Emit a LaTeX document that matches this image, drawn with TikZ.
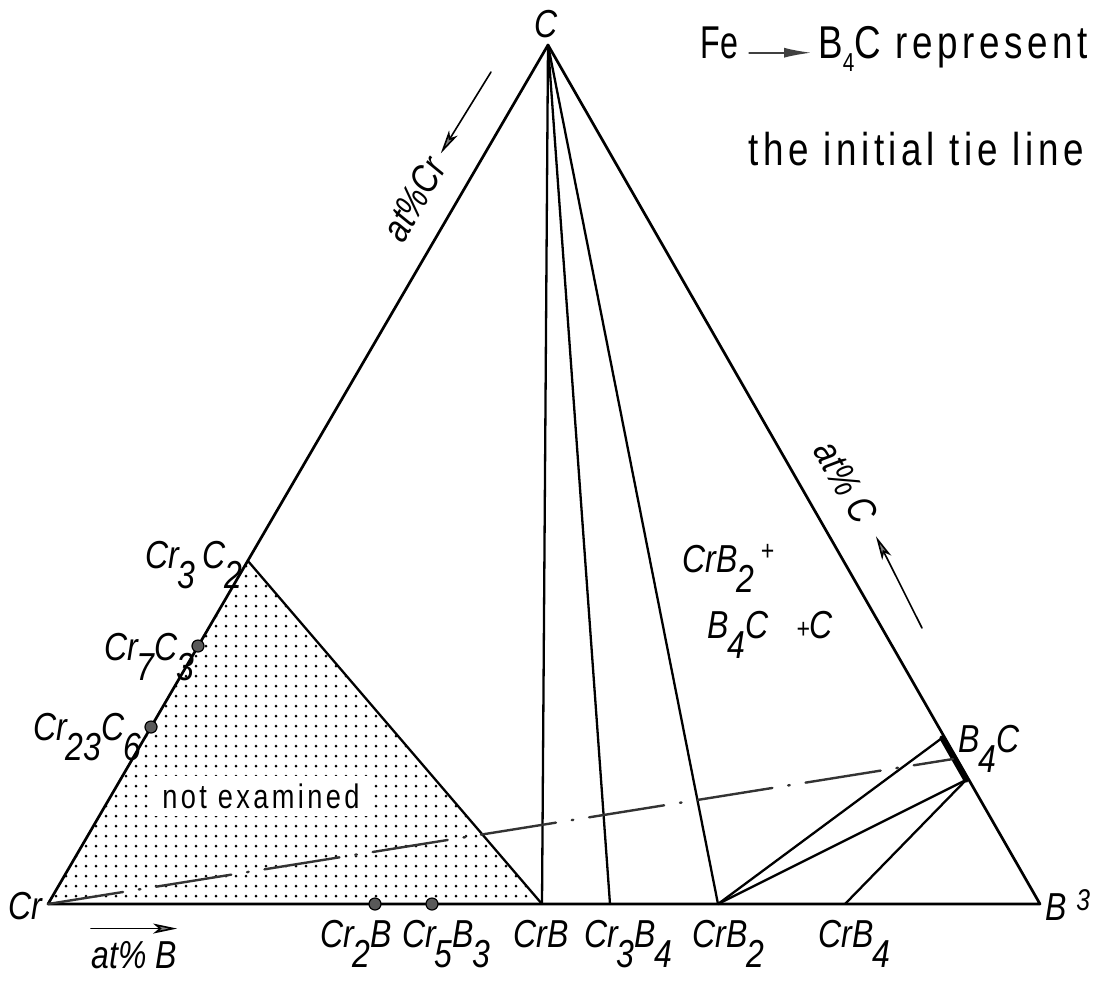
\documentclass[tikz,border=0pt]{standalone}
\usepackage{fontspec}
\setmainfont{Liberation Sans}
\newfontfamily\labfont{Liberation Sans}[FakeStretch=0.82]
\newfontfamily\dinfont{Liberation Sans}[FakeStretch=0.8,LetterSpace=10]
\newfontfamily\dinfontb{Liberation Sans}[FakeStretch=0.7,LetterSpace=2]
\usetikzlibrary{arrows.meta}
\newcommand\sbx[1]{\kern-0.03em\raisebox{-0.52em}{#1}}
\newcommand\lbl{\labfont\itshape\fontsize{19.5}{22}\selectfont}
\begin{document}
\begin{tikzpicture}[x=0.5pt,y=-0.5pt,line join=round,line cap=round,
 edge/.style={line width=1.35pt},
 tieln/.style={line width=1.15pt},
 cmpd/.style={circle,fill=black!65,draw=black,line width=0.6pt,inner sep=0pt,minimum size=6pt},
 lab/.style={inner sep=0pt,font=\lbl},
 din/.style={inner sep=0pt,font=\dinfont\fontsize{23}{26}\selectfont},
 arr/.style={line width=0.8pt,-{Stealth[length=12pt,width=5pt,inset=3pt,fill=black!50]}},
 dashdot/.style={line width=1.2pt,black!80,dash pattern=on 38pt off 8pt on 0.8pt off 8pt}]
\useasboundingbox (0,0) rectangle (1097,981);
\coordinate (Cr) at (48,904);
\coordinate (B) at (1040,904);
\coordinate (C) at (548,45);
\coordinate (cr3c2) at (248,561);
\coordinate (crb) at (542,904);
\coordinate (cr3b4) at (610,904);
\coordinate (crb2) at (718,904);
\coordinate (crb4) at (845,904);
\coordinate (b4ctop) at (942,738);
\coordinate (b4cbot) at (966,780);
\coordinate (b4cmid) at (953,759);
% dotted region
\begin{scope}
\clip (Cr) -- (cr3c2) -- (crb) -- cycle;
\foreach \x in {46,56,...,546} \foreach \y in {566,576,...,896} \fill (\x,\y) circle (0.75pt);
\end{scope}
\node[fill=white,minimum width=107pt,minimum height=20pt,inner sep=0pt,font=\dinfont\fontsize{17}{19}\selectfont] (ne) at (261,796) {not examined};
% lines
\draw[edge] (Cr) -- (B) -- (C) -- cycle;
\draw[tieln] (cr3c2) -- (crb);
\draw[tieln] (C) -- (crb);
\draw[tieln] (C) -- (cr3b4);
\draw[tieln] (C) -- (crb2);
\draw[tieln] (crb2) -- (b4ctop);
\draw[tieln] (crb2) -- (b4cbot);
\draw[tieln] (crb4) -- (b4cbot);
\draw[line width=2.6pt] (b4ctop) -- (b4cbot);
\draw[dashdot] (Cr) -- (b4cmid);
% compound points
\node[cmpd] (cr7c3) at (198,646) {};
\node[cmpd] (cr23c6) at (151,727) {};
\node[cmpd] (cr2b) at (375,904) {};
\node[cmpd] (cr5b3) at (432,904) {};
% labels
\node[lab,anchor=base] (lC) at (546,37) {C};
\node[lab,anchor=base west] (lCr) at (8,919) {Cr};
\node[lab,anchor=base west] (lB) at (1045,920) {B};
\node[inner sep=0pt,anchor=base west,font={\labfont\itshape\fontsize{15}{16}\selectfont}] (l3) at (1076,910) {3};
\node[lab,anchor=base west] (lcr2b) at (320,947) {Cr\sbx{2}B};
\node[lab,anchor=base west] (lcr5b3) at (402,947) {Cr\sbx{5}B\sbx{3}};
\node[lab,anchor=base west] (lcrb) at (513,947) {CrB};
\node[lab,anchor=base west] (lcr3b4) at (584,947) {Cr\sbx{3}B\sbx{4}};
\node[lab,anchor=base west] (lcrb2) at (692,947) {CrB\sbx{2}};
\node[lab,anchor=base west] (lcrb4) at (818,947) {CrB\sbx{4}};
\node[lab,anchor=base west] (lcr3c2) at (145,568) {Cr\sbx{3}\,C\sbx{2}};
\node[lab,anchor=base west] (lcr7c3) at (104,660) {Cr\sbx{7}C\sbx{3}};
\node[lab,anchor=base west] (lcr23c6) at (33,740) {Cr\sbx{23}C\sbx{6}};
\node[lab,anchor=base west] (lb4c) at (958,752) {B\sbx{4}C};
\node[lab,anchor=base west] (reg1) at (682,572) {CrB\sbx{2}\,\raisebox{.3em}{\fontsize{14}{14}\selectfont +}};
\node[lab,anchor=base west] (reg2) at (707,638) {B\sbx{4}C\hspace{14pt}{\fontsize{14}{14}\selectfont +}C};
% axis labels
\node[lab,rotate=59.8] (atcr) at (414,199) {at\%Cr};
\coordinate (atcrtail) at (491,72);
\draw[arr,shorten >=4pt] (atcrtail) -- (atcr.east);
\node[lab,rotate=-60.2] (atc) at (846,482) {at\% C};
\coordinate (atctail) at (922,628);
\draw[arr,shorten >=9pt] (atctail) -- (atc.east);
\node[lab,anchor=base west] (atb) at (91,968) {at\% B};
\draw[arr] ([yshift=6pt]atb.north west) -- ([yshift=6pt]atb.north east);
% note
\node[inner sep=0pt,anchor=base west,font=\dinfontb\fontsize{23}{26}\selectfont] (fe) at (700,58) {Fe};
\node[din,anchor=base west] (b4crep) at (818,58) {B\raisebox{-0.3em}{\fontsize{13}{13}\selectfont 4}C represent};
\draw[line width=1.1pt,black!75,-{Latex[length=14pt,width=5pt]}] ([xshift=5pt]fe.mid east) -- ([xshift=-3pt]b4crep.mid west);
\node[din,anchor=base west] (tie) at (748,165) {the initial tie line};
\end{tikzpicture}
\end{document}
